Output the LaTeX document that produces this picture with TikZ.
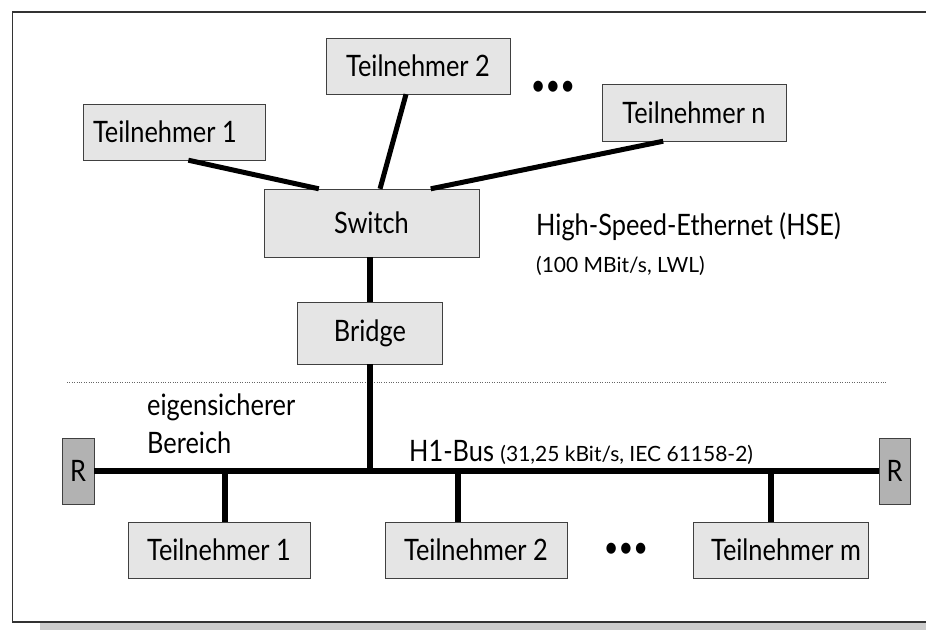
\documentclass[tikz,border=0pt]{standalone}
\usepackage{fontspec}
\setmainfont[FakeStretch=0.86]{Lato}
\newfontfamily\smallfam{Lato}
\usetikzlibrary{positioning}
\newcommand{\bigtxt}{\fontsize{29.5}{34}\selectfont}
\newcommand{\smalltxt}{\smallfam\fontsize{21}{24}\selectfont}
\tikzset{station/.style={draw=black!75,fill=black!10,minimum width=182pt,minimum height=56pt,inner sep=0pt,font=\bigtxt},
         device/.style={draw=black!75,fill=black!10,inner sep=0pt,font=\bigtxt},
         term/.style={draw=black!75,fill=black!30,minimum width=32pt,minimum height=66pt,inner sep=0pt,font=\bigtxt},
         cable/.style={line width=5pt},
         bus/.style={line width=6.5pt},
         txt/.style={anchor=base west,inner sep=0pt,font=\bigtxt}}

\begin{document}
\begin{tikzpicture}[x=1pt,y=-1pt]
        \useasboundingbox (0,0) rectangle (926,630);
        \fill[black!20] (40,623) rectangle (926,630);
        \draw[line width=1.5pt,black!80] (926,12)--(12.5,12)--(12.5,622)--(926,622);

        % HSE side
        \node[station,text width=162pt,align=flush left](t1)at(174,132){Teilnehmer 1};
        \node[station,minimum width=184pt](t2)at(418,66){Teilnehmer 2};
        \node[station,minimum width=184pt,minimum height=57pt](tn)at(694,112.5){Teilnehmer n};
        \node[font=\bigtxt](dotsA)at(553,88){\textbullet\textbullet\textbullet};
        \node[device,minimum width=215pt,minimum height=68pt](sw)at(371.5,223){Switch};
        \node[device,minimum width=145pt,minimum height=62pt](br)at(370,333){Bridge};
        \node[txt](hse)at(536,235){High-Speed-Ethernet (HSE)};
        \node[txt,font=\smalltxt](hsedata)at(536,272){(100 MBit/s, LWL)};

        \draw[cable](t1.-63)--(sw.147);
        \draw[cable](t2.-113)--(sw.76);
        \draw[cable](tn.223)--(sw.30);
        \draw[bus](br.north)--(br.north |- sw.south);

        \draw[dotted,black!60](67,382)--(887,382);

        % H1 side
        \node[txt](zone1)at(147,415){eigensicherer};
        \node[txt](zone2)at(147,453){Bereich};
        \node[txt](h1)at(409,461){H1-Bus {\smalltxt(31,25 kBit/s, IEC 61158-2)}};
        \node[term](rl)at(78,471){R};
        \node[term,minimum width=31pt](rr)at(894.5,471){R};
        \node[station](b1)at(219,550){Teilnehmer 1};
        \node[station](b2)at(476,550){Teilnehmer 2};
        \node[station,minimum width=175pt,text width=161pt,align=flush right](bm)at(780.5,550){Teilnehmer m};
        \node[font=\bigtxt](dotsB)at(626,550){\textbullet\textbullet\textbullet};

        \coordinate(kb)at(br.south |- rl.east);
        \coordinate(k1)at(225,471);
        \coordinate(k2)at(458,471);
        \coordinate(km)at(771,471);

        \draw[bus](rl.east)--(rr.west);
        \draw[bus](br.south)--(kb);
        \draw[bus](k1)--(k1 |- b1.north);
        \draw[bus](k2)--(k2 |- b2.north);
        \draw[bus](km)--(km |- bm.north);
\end{tikzpicture}
\end{document}
